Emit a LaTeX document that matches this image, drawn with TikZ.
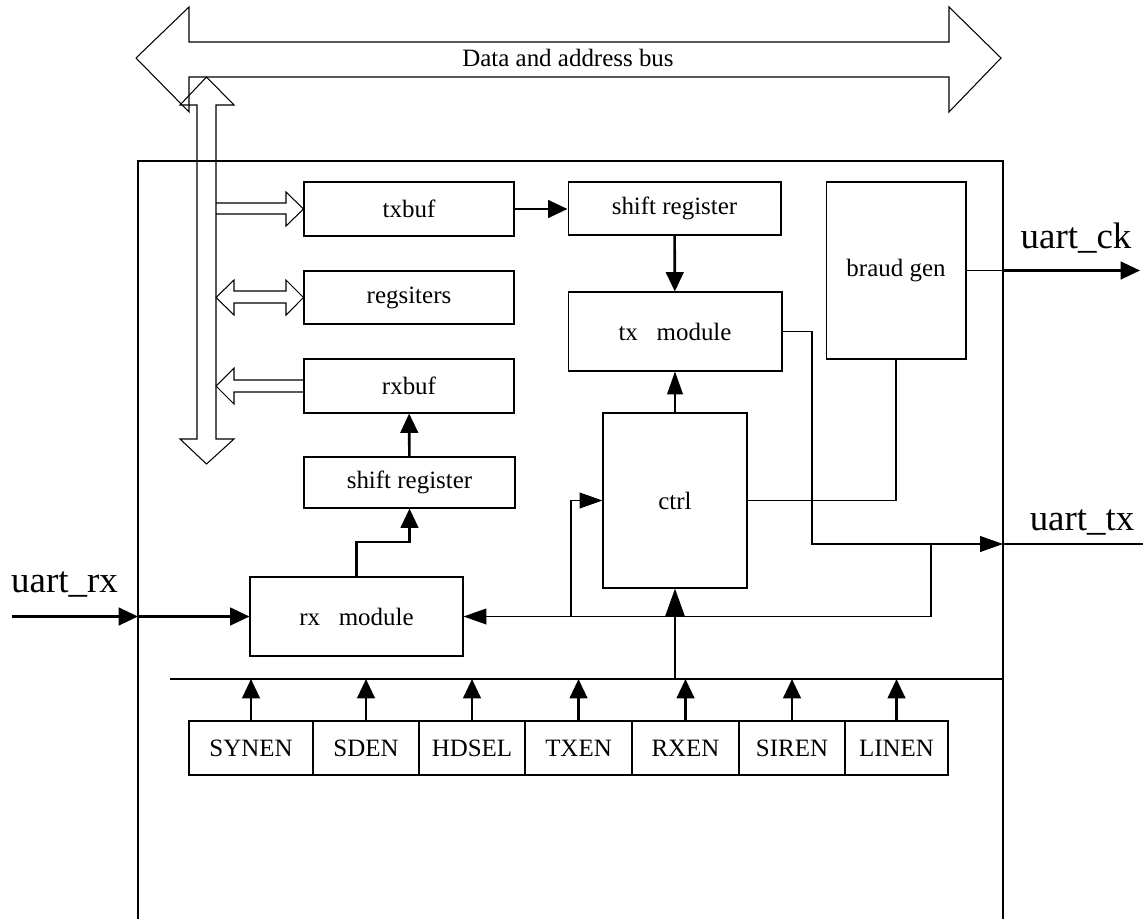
\documentclass[tikz,border=0pt]{standalone}
\usepackage{fontspec}
\setmainfont{Liberation Serif}
\usetikzlibrary{arrows.meta}

\begin{document}
\begin{tikzpicture}[x=0.02cm, y=-0.02cm,
    >={Triangle[length=13pt,width=9pt]},
    blk/.style={draw, line width=0.6pt, inner sep=0pt, font=\fontsize{14.2}{17}\selectfont},
    txt/.style={inner sep=0pt, font=\fontsize{14.2}{17}\selectfont},
    wire/.style={line width=0.6pt},
    sig/.style={line width=1.5pt, >={Triangle[length=11pt,width=10pt]}},
    hollow/.style={line width=0.6pt, line join=miter},
    pin/.style={inner sep=0pt, font=\fontsize{21}{25}\selectfont}]

  \useasboundingbox (0,0) rectangle (1145,919);

  % address / data bus
  \draw[hollow] (136,58) -- (189,7) -- (189,42) -- (949,42) -- (949,7) -- (1001,58)
     -- (949,112) -- (949,77) -- (189,77) -- (189,112) -- cycle;
  \node[txt] (bus) at (568,58) {Data and address bus};
  \draw[hollow] (206.5,77) -- (234,105) -- (216,105) -- (216,439) -- (234,439) -- (206.5,464)
     -- (180,439) -- (197,439) -- (197,105) -- (180,105) -- cycle;

  \draw[wire] (138,919) -- (138,161) -- (1003,161) -- (1003,919);

  % blocks
  \node[blk, minimum width=4.2cm, minimum height=1.08cm] (txbuf) at (409,209) {txbuf};
  \node[blk, minimum width=4.2cm, minimum height=1.06cm] (regs) at (409,297.5) {regsiters};
  \node[blk, minimum width=4.2cm, minimum height=1.08cm] (rxbuf) at (409,386) {rxbuf};
  \node[blk, minimum width=4.22cm, minimum height=1.02cm] (shrx) at (409.5,482.5) {shift register};
  \node[blk, minimum width=4.26cm, minimum height=1.58cm] (rxmod) at (356.5,616.5) {rx~~~module};
  \node[blk, minimum width=4.26cm, minimum height=1.06cm] (shtx) at (674.5,208.5) {shift register};
  \node[blk, minimum width=4.28cm, minimum height=1.58cm] (txmod) at (675,331.5) {tx~~~module};
  \node[blk, minimum width=2.88cm, minimum height=3.5cm] (ctrl) at (675,500.5) {ctrl};
  \node[blk, minimum width=2.8cm, minimum height=3.54cm] (braud) at (896,270.5) {braud gen};

  % bus taps
  \draw[hollow] (216,203) -- (286,203) -- (286,192) -- (txbuf.west) -- (286,226) -- (286,214) -- (216,214);
  \draw[hollow] (216,297.5) -- (234,280) -- (234,291) -- (286,291) -- (286,280) -- (regs.west)
     -- (286,315) -- (286,303) -- (234,303) -- (234,315) -- cycle;
  \draw[hollow] (304,380) -- (234,380) -- (234,368) -- (216,386) -- (234,404) -- (234,392) -- (304,392);

  % tx path
  \draw[sig,->] (txbuf.east) -- (txbuf.east -| shtx.west);
  \draw[sig,->] (shtx) -- (txmod);
  \draw[wire,->] (ctrl) -- (txmod);
  \coordinate (txo) at (1003,544);
  \draw[wire,->] (txmod.east) -| (812,544) -- (txo);
  \draw[sig] (txo) -- (1143,544);
  \node[pin, anchor=base] (uarttx) at (1082,530) {uart\_tx};

  % clock
  \coordinate (cko) at (1003,270.5);
  \draw[wire] (braud.east) -- (cko);
  \draw[sig,->] (cko) -- (1140,270.5);
  \node[pin, anchor=base] (uartck) at (1076,248) {uart\_ck};
  \draw[wire] (braud.south) |- (ctrl.east);

  % rx path
  \draw[wire,->] (931,544) |- (rxmod.east);
  \draw[wire,->] (571,616.5) |- (ctrl.west);
  \coordinate (rxi) at (138,616.5);
  \draw[sig,->] (12,616.5) -- (rxi);
  \draw[sig,->] (rxi) -- (rxmod.west);
  \node[pin, anchor=base] (uartrx) at (64.5,592) {uart\_rx};
  \draw[sig,->] (rxmod.north) |- (409.5,542) -- (shrx.south);
  \draw[sig,->] (shrx) -- (rxbuf);

  % control bits
  \coordinate (cbL) at (170,679);
  \coordinate (cbR) at (1003,679);
  \draw[sig] (cbL) -- (cbR);
  \draw[sig,->,>={Triangle[length=16pt,width=11pt]}] (ctrl.south |- cbL) -- (ctrl.south);
  \foreach \n/\x/\w in {SYNEN/251/124, SDEN/366/106, HDSEL/472/106, TXEN/578.5/107,
                        RXEN/685.5/107, SIREN/792/106, LINEN/896.5/103} {
    \node[blk, minimum width=\w*0.02cm, minimum height=1.08cm] (\n) at (\x,748) {\n};
    \draw[sig,->] (\n.north) -- (\n.north |- cbL);
  }
\end{tikzpicture}
\end{document}
